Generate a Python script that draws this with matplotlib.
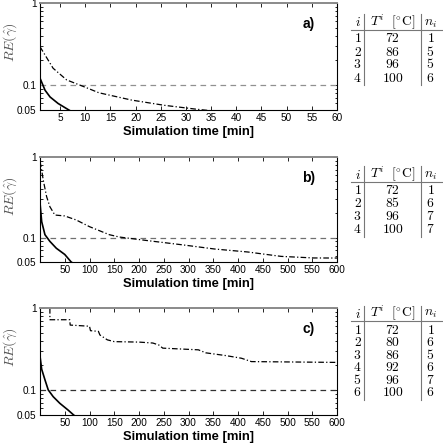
import matplotlib
matplotlib.use('Agg')
import matplotlib.pyplot as plt
from matplotlib.lines import Line2D

plt.rcParams['mathtext.fontset'] = 'cm'
plt.rcParams['font.family'] = ['Liberation Sans', 'DejaVu Sans']

# ---------------- data ----------------
# panel a
a_t_solid = [1, 2, 3, 4.6, 6.5, 7.5]
a_solid = [0.122, 0.087, 0.072, 0.060, 0.051, 0.047]
a_t_dd = [1, 3.6, 6.3, 10.1, 12.7, 19.2, 25.7, 32.2, 35]
a_dd = [0.294, 0.161, 0.116, 0.094, 0.081, 0.066, 0.057, 0.051, 0.049]
a_xticks = [5, 10, 15, 20, 25, 30, 35, 40, 45, 50, 55, 60]

# panel b
b_t_solid = [0, 3.4, 10, 20, 33, 50, 63, 70]
b_solid = [0.27, 0.158, 0.109, 0.090, 0.074, 0.062, 0.050, 0.047]
b_t_dd = [0, 3.4, 6.6, 13.4, 20, 30, 50, 73, 100, 140, 160, 220, 287, 353, 420, 487, 553, 600]
b_dd = [0.88, 0.686, 0.516, 0.322, 0.242, 0.191, 0.186, 0.166, 0.137, 0.109, 0.102,
        0.0916, 0.0817, 0.0724, 0.0665, 0.0587, 0.0561, 0.056]
b_xticks = [50, 100, 150, 200, 250, 300, 350, 400, 450, 500, 550, 600]

# panel c
c_t_solid = [0, 3.4, 10, 16.6, 26.6, 40, 56.6, 68, 72]
c_solid = [0.26, 0.18, 0.134, 0.101, 0.0836, 0.0694, 0.0575, 0.050, 0.048]
c_t_dd = [20, 20, 60, 61, 100, 102, 118, 121, 136, 150, 200, 228, 240, 248, 320, 335,
          375, 407, 427, 600]
c_dd = [1.0, 0.72, 0.72, 0.62, 0.60, 0.53, 0.52, 0.47, 0.41, 0.39, 0.385, 0.375, 0.355,
        0.325, 0.31, 0.285, 0.264, 0.245, 0.223, 0.218]
c_xticks = [50, 100, 150, 200, 250, 300, 350, 400, 450, 500, 550, 600]

threshold = 0.1
yticks = [0.05, 0.1, 1]
ytick_labels = ['0.05', '0.1', '1']

tab_a = [(1, 72, 1), (2, 86, 5), (3, 96, 5), (4, 100, 6)]
tab_b = [(1, 72, 1), (2, 85, 6), (3, 96, 7), (4, 100, 7)]
tab_c = [(1, 72, 1), (2, 80, 6), (3, 86, 5), (4, 92, 6), (5, 96, 7), (6, 100, 6)]

# ---------------- figure ----------------
W, H = 443, 448
fig = plt.figure(figsize=(W / 100, H / 100), dpi=100)


def rect(l, t, r, b):
    return [l / W, 1 - b / H, (r - l) / W, (b - t) / H]


def fx(x):
    return x / W


def fy(y):
    return 1 - y / H


panels = [
    (rect(40, 3, 337, 110), (1, 60), a_t_solid, a_solid, a_t_dd, a_dd, a_xticks, 'a)', '#909090'),
    (rect(40, 157, 337, 262), (0, 600), b_t_solid, b_solid, b_t_dd, b_dd, b_xticks, 'b)', '#707070'),
    (rect(40, 308, 337, 415), (0, 600), c_t_solid, c_solid, c_t_dd, c_dd, c_xticks, 'c)', '#303030'),
]

for pos, xlim, ts, ys, td, yd, xt, lab, dcol in panels:
    ax = fig.add_axes(pos)
    ax.set_yscale('log')
    ax.axhline(threshold, color=dcol, lw=0.9, linestyle=(0, (4.5, 3.5)))
    ax.plot(td, yd, color='black', lw=0.9, linestyle=(0, (4.5, 1.8, 1, 1.8)))
    ax.plot(ts, ys, color='black', lw=1.2)
    ax.set_xlim(*xlim)
    ax.set_ylim(0.05, 1)
    ax.set_xticks(xt)
    ax.set_xticklabels([str(v) for v in xt])
    ax.set_yticks(yticks)
    ax.set_yticklabels(ytick_labels)
    ax.tick_params(which='both', direction='in', top=True, right=True, labelsize=7.2,
                   width=0.6, pad=2.5)
    ax.tick_params(which='major', length=3)
    ax.tick_params(which='minor', length=1.8)
    for s in ['left', 'right', 'bottom']:
        ax.spines[s].set_linewidth(0.8)
        ax.spines[s].set_color('black')
    ax.spines['top'].set_color('#8a8a8a')
    ax.spines['top'].set_linewidth(1.4)
    ax.set_xlabel('Simulation time [min]', fontsize=9.4, fontweight='bold', labelpad=1.5)
    ax.set_ylabel(r'$RE(\hat{\gamma})$', fontsize=10, color='#555555')
    ax.yaxis.set_label_coords(-0.072, 0.63)
    ax.text(0.925, 0.8, lab, transform=ax.transAxes, ha='right', va='center',
            fontsize=10, fontweight='bold')


def draw_table(rows, header_y, row_y0, step):
    fs = 9.8
    xi, xT, xn = 357.5, 392.5, 430.5
    fig.text(fx(xi), fy(header_y), r'$i$', ha='center', va='center', fontsize=fs)
    fig.text(fx(xT), fy(header_y), r'$T^i\ \ [^{\circ}\mathrm{C}]$', ha='center', va='center', fontsize=fs)
    fig.text(fx(xn), fy(header_y), r'$n_i$', ha='center', va='center', fontsize=fs)
    last = row_y0 + step * (len(rows) - 1)
    fig.add_artist(Line2D([fx(351), fx(442)], [fy(header_y + 7.5)] * 2, color='#777777', lw=0.8,
                          transform=fig.transFigure))
    for xv in (364, 421):
        fig.add_artist(Line2D([fx(xv)] * 2, [fy(header_y - 8), fy(last + 8)], color='#777777',
                              lw=0.8, transform=fig.transFigure))
    for k, (i, T, n) in enumerate(rows):
        y = row_y0 + step * k
        fig.text(fx(xi), fy(y), rf'${i}$', ha='center', va='center', fontsize=fs)
        fig.text(fx(xT), fy(y), rf'${T}$', ha='center', va='center', fontsize=fs)
        fig.text(fx(xn), fy(y), rf'${n}$', ha='center', va='center', fontsize=fs)


draw_table(tab_a, 22.5, 38.5, 13.0)
draw_table(tab_b, 174.5, 190, 13.0)
draw_table(tab_c, 313.5, 329.5, 12.5)

fig.savefig('out.png', dpi=100)
